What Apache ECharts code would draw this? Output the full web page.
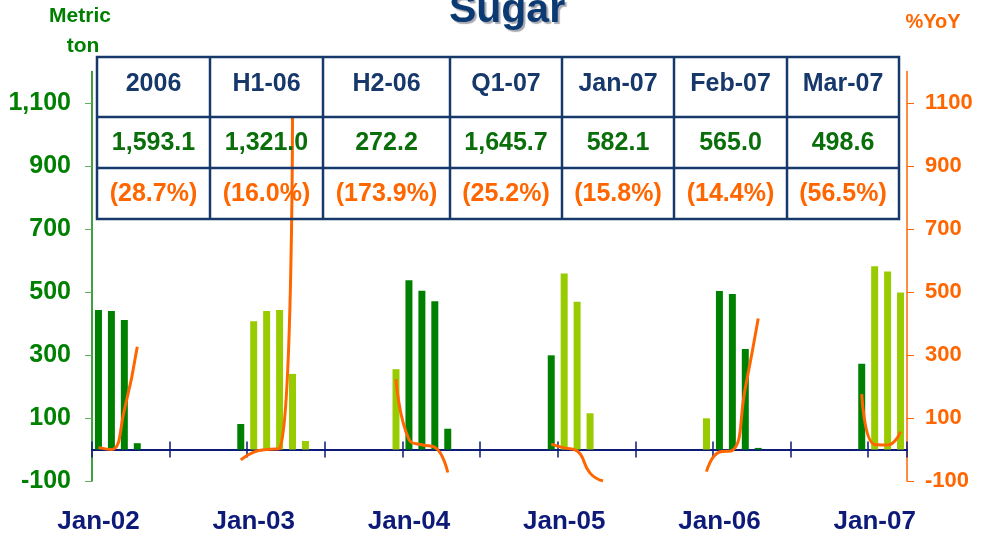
<!DOCTYPE html>
<html>
<head>
<meta charset="utf-8">
<script src="https://cdn.jsdelivr.net/npm/echarts@6/dist/echarts.min.js"></script>
<style>
  html, body { margin: 0; padding: 0; background: #fff; }
  #chart { width: 988px; height: 536px; }
</style>
</head>
<body>
<div id="chart"></div>
<script>
// 月度产量（公吨），Jan-02 到 Mar-07，每行一年
const monthNames = ['Jan', 'Feb', 'Mar', 'Apr', 'May', 'Jun', 'Jul', 'Aug', 'Sep', 'Oct', 'Nov', 'Dec']
const yearCodes = ['02', '03', '04', '05', '06', '07']

const volume = [
  443, 440, 411, 20, null, null, null, null, null, null, null, 81,
  407, 440, 443, 240, 27, null, null, null, null, null, null, 255,
  537, 504, 471, 66, null, null, null, null, null, null, null, 299,
  559, 469, 115, null, null, null, null, null, null, null, null, 99,
  503, 494, 319, 5, null, null, null, null, null, null, null, 272.2,
  582.1, 565.0, 498.6
]

// 同比增长 %YoY
const yoy = [
  6, 0, 125, 326, null, null, null, null, null, null, null, -33,
  -8, 0, 3, 1055, null, null, null, null, null, null, null, 223,
  32, 15, 7, -73, null, null, null, null, null, null, null, 17,
  5, -5, -75, -100, null, null, null, null, null, null, null, -70,
  -8, -3, 195, 416, null, null, null, null, null, null, null, 176,
  15.8, 14.4, 56.5
]

const leftTicks = [-100, 100, 300, 500, 700, 900, 1100]
const rightTicks = [-100, 100, 300, 500, 700, 900, 1100]

// 表格
const tableHeaders = ['2006', 'H1-06', 'H2-06', 'Q1-07', 'Jan-07', 'Feb-07', 'Mar-07']
const tableValues = ['1,593.1', '1,321.0', '272.2', '1,645.7', '582.1', '565.0', '498.6']
const tableYoy = ['(28.7%)', '(16.0%)', '(173.9%)', '(25.2%)', '(15.8%)', '(14.4%)', '(56.5%)']

const months = []
yearCodes.forEach(y => monthNames.forEach(m => months.push(m + '-' + y)))
months.length = volume.length

const DARK = '#008000'
const LIGHT = '#99cc00'
const ORANGE = '#ff6600'
const NAVY = '#0d1a78'
const TBL = '#17386b'
const FONT = 'Arial, "Liberation Sans", sans-serif'

// 布局：绘图区 71.5 ~ 481，零线在 449.5
const gridTop = 71.5
const gridBottom = 55
const zeroOffset = 31.5
const plotH = 536 - gridTop - gridBottom

// 表格布局
const colX = [97, 210, 323, 450, 562, 674, 787, 899]
const rowY = [57, 117, 168, 219]

const graphics = []
graphics.push({
  type: 'text', x: 507, y: 11, z: 100,
  style: {
    text: 'Sugar', font: 'bold 41px ' + FONT, fill: '#0b3a72', textAlign: 'center', textVerticalAlign: 'middle',
    textShadowColor: 'rgba(60,60,80,0.45)', textShadowOffsetX: 2, textShadowOffsetY: 2, textShadowBlur: 1
  }
})
graphics.push({
  type: 'text', x: 80, y: 16, z: 100,
  style: { text: 'Metric', font: 'bold 21px ' + FONT, fill: DARK, textAlign: 'center', textVerticalAlign: 'middle' }
})
graphics.push({
  type: 'text', x: 83, y: 46, z: 100,
  style: { text: 'ton', font: 'bold 21px ' + FONT, fill: DARK, textAlign: 'center', textVerticalAlign: 'middle' }
})
graphics.push({
  type: 'text', x: 933, y: 22, z: 100,
  style: { text: '%YoY', font: 'bold 20px ' + FONT, fill: ORANGE, textAlign: 'center', textVerticalAlign: 'middle' }
})

graphics.push({
  type: 'rect', z: 100,
  shape: { x: colX[0], y: rowY[0], width: colX[7] - colX[0], height: rowY[3] - rowY[0] },
  style: { fill: 'none', stroke: TBL, lineWidth: 2.5 }
})
for (let i = 1; i < colX.length - 1; i++) {
  graphics.push({
    type: 'line', z: 100,
    shape: { x1: colX[i], y1: rowY[0], x2: colX[i], y2: rowY[3] },
    style: { stroke: TBL, lineWidth: 2.5 }
  })
}
for (let j = 1; j < rowY.length - 1; j++) {
  graphics.push({
    type: 'line', z: 100,
    shape: { x1: colX[0], y1: rowY[j], x2: colX[7], y2: rowY[j] },
    style: { stroke: TBL, lineWidth: 2.5 }
  })
}
const rows = [
  { texts: tableHeaders, color: TBL, dy: -3 },
  { texts: tableValues, color: '#0a6e0a', dy: 1 },
  { texts: tableYoy, color: ORANGE, dy: 1 }
]
rows.forEach((row, j) => {
  row.texts.forEach((t, i) => {
    graphics.push({
      type: 'text', z: 101,
      x: (colX[i] + colX[i + 1]) / 2,
      y: (rowY[j] + rowY[j + 1]) / 2 + row.dy,
      style: { text: t, font: 'bold 25px ' + FONT, fill: row.color, textAlign: 'center', textVerticalAlign: 'middle' }
    })
  })
})

const myChart = echarts.init(document.getElementById('chart'))

const option = {
  animation: false,
  grid: {
    left: 92, right: 81, top: gridTop, bottom: gridBottom,
    containLabel: false, outerBoundsMode: 'none'
  },
  xAxis: [
    {
      // 零线 + 向下刻度 + 年份标签
      type: 'category',
      data: months,
      boundaryGap: true,
      position: 'bottom',
      offset: -zeroOffset,
      axisLine: { show: true, onZero: false, lineStyle: { color: NAVY, width: 2 } },
      axisTick: { show: true, interval: 5, length: 8, lineStyle: { color: NAVY, width: 1.5 } },
      axisLabel: {
        show: true, interval: 11, margin: 59,
        color: NAVY, fontSize: 26, fontWeight: 'bold', fontFamily: FONT
      },
      splitLine: { show: false }
    },
    {
      // 零线上方的刻度
      type: 'category',
      data: months,
      boundaryGap: true,
      position: 'top',
      offset: -(plotH - zeroOffset),
      axisLine: { show: false, onZero: false },
      axisTick: { show: true, interval: 5, length: 8, lineStyle: { color: NAVY, width: 1.5 } },
      axisLabel: { show: false },
      splitLine: { show: false }
    }
  ],
  yAxis: [
    {
      type: 'value',
      min: -100,
      max: 1200,
      axisLine: { show: true, lineStyle: { color: DARK, width: 1.5 } },
      axisTick: { show: true, length: 7, customValues: leftTicks, lineStyle: { color: '#5fae5f' } },
      axisLabel: {
        customValues: leftTicks, margin: 21,
        color: DARK, fontSize: 25, fontWeight: 'bold', fontFamily: FONT,
        formatter: v => v.toLocaleString('en-US')
      },
      splitLine: { show: false }
    },
    {
      type: 'value',
      min: -100,
      max: 1200,
      position: 'right',
      axisLine: { show: true, lineStyle: { color: ORANGE, width: 1.5 } },
      axisTick: { show: true, length: 7, customValues: rightTicks, lineStyle: { color: ORANGE } },
      axisLabel: {
        customValues: rightTicks, margin: 18,
        color: ORANGE, fontSize: 22, fontWeight: 'bold', fontFamily: FONT,
        formatter: v => String(v)
      },
      splitLine: { show: false }
    }
  ],
  series: [
    {
      name: 'Metric ton',
      type: 'bar',
      xAxisIndex: 0,
      yAxisIndex: 0,
      data: volume,
      barWidth: '54%',
      itemStyle: {
        color: p => (Math.floor(p.dataIndex / 12) % 2 === 0 ? DARK : LIGHT)
      }
    },
    {
      name: '%YoY',
      type: 'line',
      xAxisIndex: 0,
      yAxisIndex: 1,
      data: yoy,
      smooth: true,
      connectNulls: false,
      showSymbol: false,
      lineStyle: { color: ORANGE, width: 3 },
      z: 3
    }
  ],
  graphic: graphics
}

myChart.setOption(option)
</script>
</body>
</html>
